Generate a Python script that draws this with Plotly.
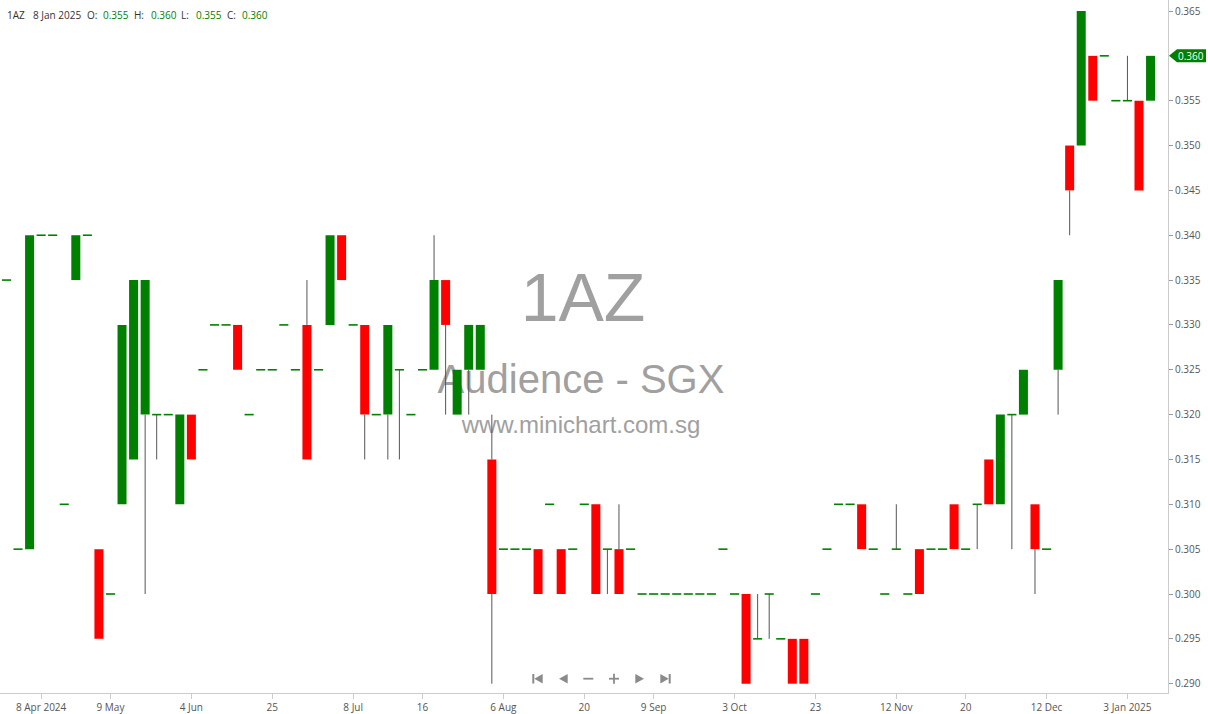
import plotly.graph_objects as go

# ---------------- data ----------------
symbol = "1AZ"
company = "Audience - SGX"
site = "www.minichart.com.sg"
last_date = "8 Jan 2025"

opens = [0.335, 0.305, 0.305, 0.340, 0.340, 0.310, 0.335, 0.340, 0.305, 0.300,
         0.310, 0.315, 0.320, 0.320, 0.320, 0.310, 0.320, 0.325, 0.330, 0.330,
         0.330, 0.320, 0.325, 0.325, 0.330, 0.325, 0.330, 0.325, 0.330, 0.340,
         0.330, 0.330, 0.320, 0.320, 0.325, 0.320, 0.325, 0.325, 0.335, 0.320,
         0.325, 0.325, 0.315, 0.305, 0.305, 0.305, 0.305, 0.310, 0.305, 0.305,
         0.310, 0.310, 0.305, 0.305, 0.305, 0.300, 0.300, 0.300, 0.300, 0.300,
         0.300, 0.300, 0.305, 0.300, 0.300, 0.295, 0.300, 0.295, 0.295, 0.295,
         0.300, 0.305, 0.310, 0.310, 0.310, 0.305, 0.300, 0.305, 0.300, 0.305,
         0.305, 0.305, 0.310, 0.305, 0.310, 0.315, 0.310, 0.320, 0.320, 0.310,
         0.305, 0.325, 0.350, 0.350, 0.360, 0.360, 0.355, 0.355, 0.355, 0.355]
highs = [0.335, 0.305, 0.340, 0.340, 0.340, 0.310, 0.340, 0.340, 0.305, 0.300,
         0.330, 0.335, 0.335, 0.320, 0.320, 0.320, 0.320, 0.325, 0.330, 0.330,
         0.330, 0.320, 0.325, 0.325, 0.330, 0.325, 0.335, 0.325, 0.340, 0.340,
         0.330, 0.330, 0.320, 0.330, 0.325, 0.320, 0.325, 0.340, 0.335, 0.325,
         0.330, 0.330, 0.320, 0.305, 0.305, 0.305, 0.305, 0.310, 0.305, 0.305,
         0.310, 0.310, 0.305, 0.310, 0.305, 0.300, 0.300, 0.300, 0.300, 0.300,
         0.300, 0.300, 0.305, 0.300, 0.300, 0.300, 0.300, 0.295, 0.295, 0.295,
         0.300, 0.305, 0.310, 0.310, 0.310, 0.305, 0.300, 0.310, 0.300, 0.305,
         0.305, 0.305, 0.310, 0.305, 0.310, 0.315, 0.320, 0.320, 0.325, 0.310,
         0.305, 0.335, 0.350, 0.365, 0.360, 0.360, 0.355, 0.360, 0.355, 0.360]
lows = [0.335, 0.305, 0.305, 0.340, 0.340, 0.310, 0.335, 0.340, 0.295, 0.300,
        0.310, 0.315, 0.300, 0.315, 0.320, 0.310, 0.315, 0.325, 0.330, 0.330,
        0.325, 0.320, 0.325, 0.325, 0.330, 0.325, 0.315, 0.325, 0.330, 0.335,
        0.330, 0.315, 0.320, 0.315, 0.315, 0.320, 0.325, 0.325, 0.320, 0.320,
        0.320, 0.325, 0.290, 0.305, 0.305, 0.305, 0.300, 0.310, 0.300, 0.305,
        0.310, 0.300, 0.300, 0.300, 0.305, 0.300, 0.300, 0.300, 0.300, 0.300,
        0.300, 0.300, 0.305, 0.300, 0.290, 0.295, 0.295, 0.295, 0.290, 0.290,
        0.300, 0.305, 0.310, 0.310, 0.305, 0.305, 0.300, 0.305, 0.300, 0.300,
        0.305, 0.305, 0.305, 0.305, 0.305, 0.310, 0.310, 0.305, 0.320, 0.300,
        0.305, 0.320, 0.340, 0.350, 0.355, 0.360, 0.355, 0.355, 0.345, 0.355]
closes = [0.335, 0.305, 0.340, 0.340, 0.340, 0.310, 0.340, 0.340, 0.295, 0.300,
          0.330, 0.335, 0.335, 0.320, 0.320, 0.320, 0.315, 0.325, 0.330, 0.330,
          0.325, 0.320, 0.325, 0.325, 0.330, 0.325, 0.315, 0.325, 0.340, 0.335,
          0.330, 0.320, 0.320, 0.330, 0.325, 0.320, 0.325, 0.335, 0.330, 0.325,
          0.330, 0.330, 0.300, 0.305, 0.305, 0.305, 0.300, 0.310, 0.300, 0.305,
          0.310, 0.300, 0.305, 0.300, 0.305, 0.300, 0.300, 0.300, 0.300, 0.300,
          0.300, 0.300, 0.305, 0.300, 0.290, 0.295, 0.300, 0.295, 0.290, 0.290,
          0.300, 0.305, 0.310, 0.310, 0.305, 0.305, 0.300, 0.305, 0.300, 0.300,
          0.305, 0.305, 0.305, 0.305, 0.310, 0.310, 0.320, 0.320, 0.325, 0.305,
          0.305, 0.335, 0.345, 0.365, 0.355, 0.360, 0.355, 0.355, 0.345, 0.360]

tick_index = [3, 9, 16, 23, 30, 36, 43, 50, 56, 63, 70, 77, 83, 90, 97]
tick_labels = ["8 Apr 2024", "9 May", "4 Jun", "25", "8 Jul", "16", "6 Aug", "20",
               "9 Sep", "3 Oct", "23", "12 Nov", "20", "12 Dec", "3 Jan 2025"]
price_ticks = [0.290, 0.295, 0.300, 0.305, 0.310, 0.315, 0.320, 0.325,
               0.330, 0.335, 0.340, 0.345, 0.350, 0.355, 0.360, 0.365]

# ---------------- styles ----------------
GREEN = "#008000"
RED = "#ff0000"
WICK = "#555555"
AXIS = "#cccccc"
LABEL = "#555555"
FONT = "Open Sans"
PLOT_W = 1168
PLOT_H = 693
Y_RANGE = [0.288963, 0.366226]

n = len(opens)
xs = list(range(n))
last = closes[-1]

# bodies
bx, bb, bh, bc = [], [], [], []
# flats
fx, fy = [], []
# wicks
wx, wy = [], []
for i in xs:
    o, h, l, c = opens[i], highs[i], lows[i], closes[i]
    top, bot = max(o, c), min(o, c)
    if abs(c - o) > 1e-9:
        bx.append(i)
        bb.append(bot)
        bh.append(top - bot)
        bc.append(GREEN if c > o else RED)
    else:
        fx.append(i)
        fy.append(c)
    if h > top + 1e-9:
        wx += [i, i, None]
        wy += [top, h, None]
    if l < bot - 1e-9:
        wx += [i, i, None]
        wy += [bot, l, None]

# the price tag replaces the axis label at the last close
shown_ticks = [t for t in price_ticks if abs(t - last) > 1e-9]

fig = go.Figure()

# watermark (base subplot, drawn beneath the candles)
fig.add_trace(go.Scatter(
    x=[583, 581, 581], y=[304, 383, 427], mode="text",
    text=[symbol, company, site],
    textfont=dict(family="Liberation Sans, Arial", size=[68, 40, 24], color="#a0a0a0"),
    textposition="middle center", hoverinfo="skip", xaxis="x", yaxis="y"))

fig.add_trace(go.Bar(
    x=bx, y=bh, base=bb, width=0.78,
    marker=dict(color=bc, line=dict(width=0)),
    xaxis="x2", yaxis="y2", hoverinfo="skip"))

fig.add_trace(go.Scatter(
    x=wx, y=wy, mode="lines", line=dict(color=WICK, width=1),
    xaxis="x2", yaxis="y2", hoverinfo="skip"))

fig.add_trace(go.Scatter(
    x=fx, y=fy, mode="markers",
    marker=dict(symbol="line-ew", size=6.5, line=dict(color=GREEN, width=1.6)),
    xaxis="x2", yaxis="y2", hoverinfo="skip"))

# header annotations
annotations = []
header = [
    (6, symbol, "#333333"),
    (32, last_date, "#333333"),
    (86, "O:", "#333333"), (102, f"{opens[-1]:.3f}", GREEN),
    (133, "H:", "#333333"), (150, f"{highs[-1]:.3f}", GREEN),
    (180, "L:", "#333333"), (195, f"{lows[-1]:.3f}", GREEN),
    (226, "C:", "#333333"), (241, f"{closes[-1]:.3f}", GREEN),
]
for px, txt, col in header:
    annotations.append(dict(x=px, y=15, xref="x", yref="y", text=txt, showarrow=False,
                            xanchor="left", yanchor="middle", borderpad=0,
                            font=dict(family=FONT, size=10, color=col)))

# last price tag
hh = 6.5 * (Y_RANGE[1] - Y_RANGE[0]) / PLOT_H
p = lambda v: v / PLOT_W
tag_path = (f"M {p(1169)},{last} L {p(1177)},{last + hh} L {p(1206)},{last + hh} "
            f"L {p(1206)},{last - hh} L {p(1177)},{last - hh} Z")
shapes = [dict(type="path", path=tag_path, xref="paper", yref="y2",
               fillcolor=GREEN, line=dict(width=0), layer="above")]
annotations.append(dict(x=p(1177), y=last, xref="paper", yref="y2", text=f"{last:.3f}",
                        showarrow=False, xanchor="left", yanchor="middle", borderpad=0,
                        font=dict(family=FONT, size=10, color="white")))

# navigator controls (base pixel coordinates)
NAV = "#8a8a8a"
shapes += [
    dict(type="rect", x0=532.3, x1=534.3, y0=674, y1=683.5, xref="x", yref="y", fillcolor=NAV, line=dict(width=0)),
    dict(type="path", path="M 534.3,678.7 L 542.7,674 L 542.7,683.5 Z", xref="x", yref="y", fillcolor=NAV, line=dict(width=0)),
    dict(type="path", path="M 559,678.7 L 567.7,674 L 567.7,683.5 Z", xref="x", yref="y", fillcolor=NAV, line=dict(width=0)),
    dict(type="rect", x0=583.3, x1=593.3, y0=677.8, y1=679.6, xref="x", yref="y", fillcolor=NAV, line=dict(width=0)),
    dict(type="rect", x0=609, x1=619, y0=677.8, y1=679.6, xref="x", yref="y", fillcolor=NAV, line=dict(width=0)),
    dict(type="rect", x0=613.1, x1=614.9, y0=673.7, y1=683.7, xref="x", yref="y", fillcolor=NAV, line=dict(width=0)),
    dict(type="path", path="M 644,678.7 L 635.3,674 L 635.3,683.5 Z", xref="x", yref="y", fillcolor=NAV, line=dict(width=0)),
    dict(type="path", path="M 668.7,678.7 L 660.3,674 L 660.3,683.5 Z", xref="x", yref="y", fillcolor=NAV, line=dict(width=0)),
    dict(type="rect", x0=668.7, x1=670.7, y0=674, y1=683.5, xref="x", yref="y", fillcolor=NAV, line=dict(width=0)),
]

fig.update_layout(
    width=1208, height=714,
    margin=dict(l=0, r=40, t=0, b=21),
    paper_bgcolor="white", plot_bgcolor="white",
    showlegend=False, barmode="overlay",
    xaxis=dict(range=[0, PLOT_W], visible=False, fixedrange=True),
    yaxis=dict(range=[PLOT_H, 0], visible=False, fixedrange=True),
    xaxis2=dict(overlaying="x", anchor="y2", range=[-0.56, 100.51],
                tickmode="array", tickvals=tick_index, ticktext=tick_labels,
                ticks="outside", ticklen=5, tickcolor=AXIS, tickwidth=1,
                showline=True, linecolor=AXIS, linewidth=1,
                showgrid=False, zeroline=False,
                tickfont=dict(family=FONT, size=10, color=LABEL)),
    yaxis2=dict(overlaying="y", anchor="x2", side="right", range=Y_RANGE,
                tickmode="array", tickvals=shown_ticks,
                ticktext=[f"{t:.3f}" for t in shown_ticks],
                ticks="outside", ticklen=4, tickcolor="#999999", tickwidth=1,
                showline=True, linecolor=AXIS, linewidth=1,
                showgrid=False, zeroline=False,
                tickfont=dict(family=FONT, size=10, color=LABEL)),
    annotations=annotations,
    shapes=shapes,
)

fig.write_html("out.html", config={"displayModeBar": False},
               post_script="document.body.style.margin='0px';")
